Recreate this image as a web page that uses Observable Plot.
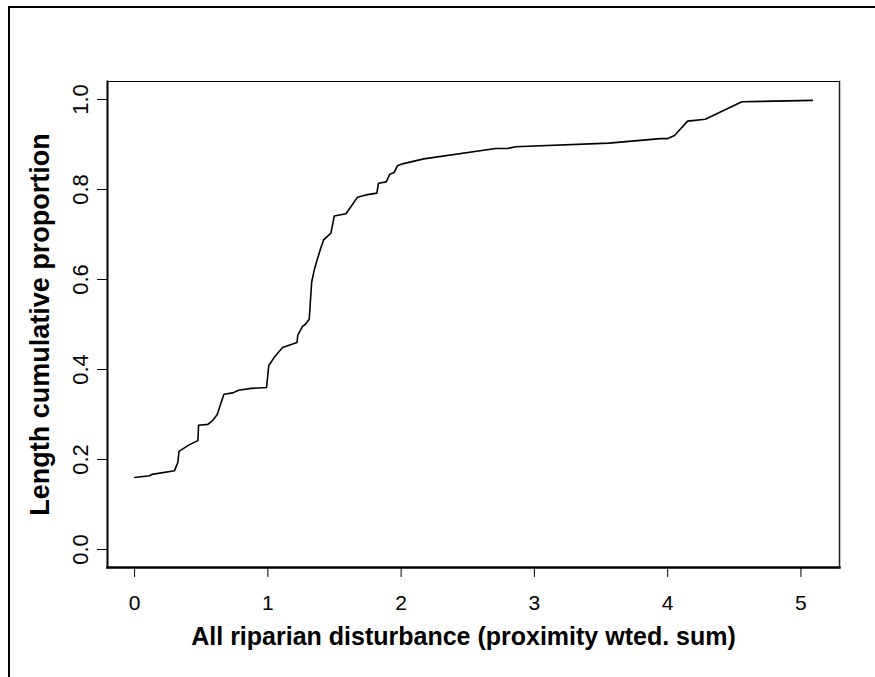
<!DOCTYPE html>
<html><head><meta charset="utf-8">
<script src="https://cdn.jsdelivr.net/npm/d3@7"></script>
<script src="https://cdn.jsdelivr.net/npm/@observablehq/plot@0.6"></script>
<style>
body{margin:0;background:#fff;}
#wrap{position:relative;width:875px;height:677px;overflow:hidden;background:#fff;}
#outer{position:absolute;left:8px;top:6px;width:900px;height:700px;border-top:2px solid #000;border-left:2px solid #000;}
#chart{position:absolute;left:0;top:0;}
</style></head>
<body><div id="wrap"><div id="outer"></div><div id="chart"></div></div>
<script>
const disturbance = [0, 0.112, 0.13, 0.30, 0.31, 0.325, 0.333, 0.412, 0.475, 0.48, 0.55, 0.587, 0.62, 0.67, 0.737, 0.78, 0.874, 0.99, 1.007, 1.05, 1.11, 1.219, 1.224, 1.26, 1.28, 1.30, 1.31, 1.329, 1.348, 1.366, 1.393, 1.418, 1.473, 1.498, 1.586, 1.673, 1.736, 1.818, 1.83, 1.888, 1.915, 1.948, 1.973, 2.01, 2.17, 2.709, 2.797, 2.859, 3.558, 3.946, 3.996, 4.051, 4.15, 4.282, 4.557, 5.086];
const proportion = [0.160, 0.164, 0.167, 0.175, 0.183, 0.194, 0.218, 0.233, 0.242, 0.276, 0.278, 0.287, 0.300, 0.345, 0.348, 0.354, 0.358, 0.360, 0.409, 0.428, 0.449, 0.460, 0.476, 0.496, 0.500, 0.508, 0.511, 0.595, 0.621, 0.640, 0.666, 0.688, 0.703, 0.741, 0.746, 0.783, 0.788, 0.792, 0.814, 0.817, 0.834, 0.838, 0.853, 0.857, 0.868, 0.891, 0.891, 0.895, 0.903, 0.913, 0.913, 0.920, 0.952, 0.956, 0.995, 0.998];
const xTicks = [0, 1, 2, 3, 4, 5];
const yTicks = [0, 0.2, 0.4, 0.6, 0.8, 1.0];
const xTitle = "All riparian disturbance (proximity wted. sum)";
const yTitle = "Length cumulative proportion";

const data = disturbance.map((x, i) => ({x, y: proportion[i]}));

const chart = Plot.plot({
  width: 875, height: 677,
  marginLeft: 107, marginRight: 36, marginTop: 81, marginBottom: 110,
  style: {fontFamily: "'Liberation Sans', Arial, sans-serif", background: "transparent", color: "#000"},
  x: {domain: [-0.2034, 5.2894]},
  y: {domain: [-0.04, 1.04]},
  marks: [
    Plot.frame({stroke: "#000", strokeWidth: 1}),
    Plot.frame({anchor: "left", stroke: "#000", strokeWidth: 2}),
    Plot.frame({anchor: "bottom", stroke: "#000", strokeWidth: 2.5}),
    Plot.frame({anchor: "right", stroke: "#222", strokeWidth: 1.5}),
    Plot.axisX({ticks: xTicks, tickSize: 10, tickPadding: 18, fontSize: 21, label: null, tickFormat: d => String(d), stroke: "#000"}),
    Plot.axisY({ticks: yTicks, tickSize: 10, tickPadding: 10, tickRotate: -90, fontSize: 22, label: null, tickFormat: d3.format(".1f"), stroke: "#000"}),
    Plot.line(data, {x: "x", y: "y", stroke: "#000", strokeWidth: 1.6}),
    Plot.text([xTitle], {text: d => d, frameAnchor: "bottom", dx: -10, dy: 77, lineAnchor: "bottom", textAnchor: "middle", fontWeight: "bold", fontSize: 25, fill: "#000"}),
    Plot.text([yTitle], {text: d => d, frameAnchor: "left", dx: -59, rotate: -90, lineAnchor: "bottom", textAnchor: "middle", fontWeight: "bold", fontSize: 27, fill: "#000"})
  ]
});
document.getElementById("chart").appendChild(chart);
</script>
</body></html>
